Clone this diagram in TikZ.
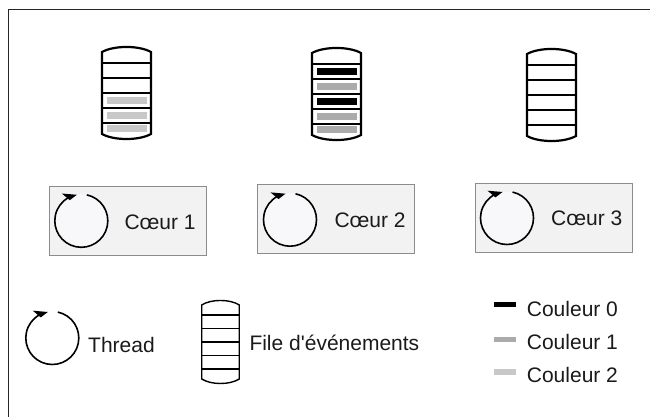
\documentclass[tikz,border=0pt]{standalone}
\usepackage{fontspec}
\setmainfont{Liberation Sans}
\definecolor{coul0}{HTML}{000000}
\definecolor{coul1}{HTML}{ABABAB}
\definecolor{coul2}{HTML}{C8C8C8}
\definecolor{coreback}{HTML}{F2F2F2}
\definecolor{coreline}{HTML}{8C8C8C}
\definecolor{loopfill}{HTML}{F8F8FA}
\definecolor{textgray}{HTML}{1A1A1A}
\def\eventfile{\draw (0,0) .. controls (12,6.7) and (37,6.7) .. (49,0) -- (49,-82) .. controls (37,-88.7) and (12,-88.7) .. (0,-82) -- cycle;
  \foreach \ly in {-11,-26,-41,-56,-71} \draw (0,\ly) -- (49,\ly);}
\def\slotbar#1#2{\fill[#1] (4.5,#2-3.75) rectangle (44.5,#2+3.75);}
\def\threadloop(#1)#2{\fill[#2] (#1) circle (26.5);
  \draw[threadarc] ([shift={(78:26.5)}]#1) arc[start angle=78,end angle=-242,radius=26.5];
  \fill ([shift={(-19.5,27.3)}]#1) -- ([shift={(-4.5,26)}]#1) -- ([shift={(-11.5,20.6)}]#1) -- cycle;}

\begin{document}
\begin{tikzpicture}[x=1pt,y=1pt,
  filewall/.style={line width=2.2pt},
  legendwall/.style={line width=1.4pt},
  corebox/.style={draw=coreline,fill=coreback,line width=0.9pt,minimum width=157pt,minimum height=69pt,inner sep=0pt},
  threadarc/.style={line width=1.6pt},
  txt/.style={anchor=base west,inner sep=0pt,text=textgray,font=\fontsize{21}{25}\selectfont}]
\useasboundingbox (0,0) rectangle (650,417);
\draw[line width=1.4pt,draw=black!85] (8.7,0) -- (8.7,407.2) -- (650,407.2);

% event files of the three cores
\begin{scope}[shift={(102,365)},filewall]
\eventfile
\slotbar{coul2}{-48.5}
\slotbar{coul2}{-63.5}
\slotbar{coul2}{-76.5}
\end{scope}
\begin{scope}[shift={(312,364)},filewall]
\eventfile
\slotbar{coul0}{-18.5}
\slotbar{coul1}{-33.5}
\slotbar{coul0}{-48.5}
\slotbar{coul1}{-63.5}
\slotbar{coul1}{-76.5}
\end{scope}
\begin{scope}[shift={(527,363)},filewall]
\eventfile
\end{scope}

% cores
\node[corebox] (core1) at (127.5,196.5) {};
\coordinate (t1) at (81.3,196.2);
\threadloop(t1){loopfill}
\node[txt] (c1lab) at (124.3,187.7) {Cœur 1};

\node[corebox] (core2) at (336.3,198) {};
\coordinate (t2) at (290,197.3);
\threadloop(t2){loopfill}
\node[txt] (c2lab) at (334.3,189.3) {Cœur 2};

\node[corebox] (core3) at (553.5,199.5) {};
\coordinate (t3) at (507,199);
\threadloop(t3){loopfill}
\node[txt] (c3lab) at (551,191) {Cœur 3};

% legend
\coordinate (tleg) at (52.3,79);
\threadloop(tleg){white}
\node[txt] (threadlab) at (88,64.7) {Thread};
\begin{scope}[shift={(201.7,112)},xscale=0.767,yscale=0.902,legendwall]
\eventfile
\end{scope}
\node[txt] (filelab) at (249.3,66) {File d\textquotesingle événements};

\fill[coul0] (494,110.3) rectangle (516,114.7);
\node[txt] (c0lab) at (526.7,100.3) {Couleur 0};
\fill[coul1] (494,75) rectangle (516,80);
\node[txt] (c1leg) at (526.7,67) {Couleur 1};
\fill[coul2] (494,42) rectangle (516,47.5);
\node[txt] (c2leg) at (526.7,34.3) {Couleur 2};
\end{tikzpicture}
\end{document}
